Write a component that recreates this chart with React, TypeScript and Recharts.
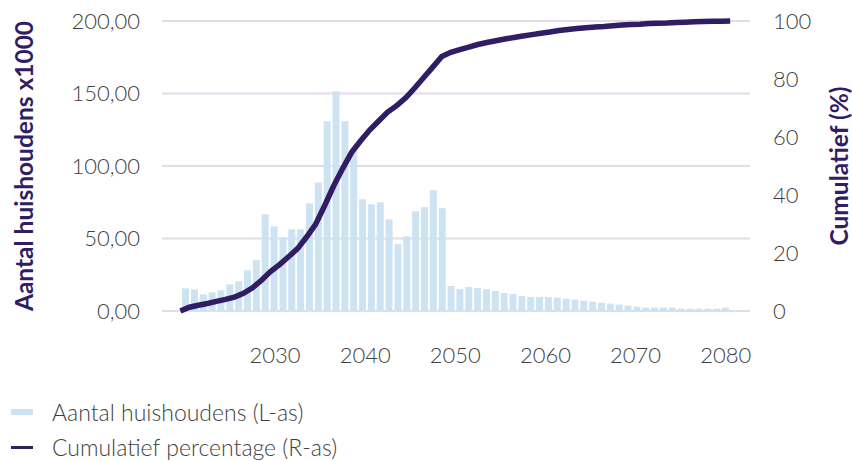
import React from "react"
import {
  ComposedChart,
  Bar,
  Line,
  XAxis,
  YAxis,
  CartesianGrid,
} from "recharts"

// jaren van de staafjes
const years = Array.from({ length: 62 }, (_, i) => 2020 + i)

// aantal huishoudens x1000 per jaar
const households = [
  15.6, 14.9, 11.5, 12.9, 14.3, 18.4, 20.5, 28.0, 35.0, 66.7,
  58.4, 50.8, 56.3, 56.3, 74.3, 88.7, 130.8, 151.5, 130.8, 111.5,
  77.1, 73.6, 75.0, 63.3, 46.1, 51.6, 68.8, 71.6, 83.3, 70.9,
  17.2, 15.1, 16.5, 15.8, 15.1, 13.8, 12.4, 11.7, 10.3, 9.6,
  9.7, 9.7, 9.2, 8.5, 7.8, 7.1, 6.4, 5.7, 5.1, 4.4,
  3.7, 3.0, 2.3, 2.3, 2.3, 2.3, 1.6, 1.6, 1.6, 1.6,
  1.6, 2.3,
]

// cumulatief percentage, eind van elk jaar (2019 t/m 2080)
const cumYears = Array.from({ length: 62 }, (_, i) => 2019 + i)
const cumulative = [
  0, 1.3, 2.0, 2.6, 3.3, 4.0, 4.8, 6.1, 8.0, 10.6,
  13.6, 16.0, 18.7, 21.5, 25.5, 29.9, 36.3, 43.1, 49.1, 54.7,
  58.7, 62.4, 65.5, 68.6, 70.8, 73.5, 76.9, 80.5, 84.1, 87.8,
  89.2, 90.1, 91.0, 91.9, 92.6, 93.2, 93.8, 94.3, 94.8, 95.3,
  95.8, 96.2, 96.7, 97.1, 97.4, 97.7, 97.9, 98.1, 98.4, 98.6,
  98.8, 98.9, 99.1, 99.2, 99.3, 99.5, 99.6, 99.7, 99.8, 99.9,
  99.9, 100,
]

const leftTicks = [0, 50, 100, 150, 200]
const rightTicks = [0, 20, 40, 60, 80, 100]
const yearTicks = [2030, 2040, 2050, 2060, 2070, 2080]

const barRows = years.map((year, i) => ({ year, value: households[i] }))
const lineRows = cumYears.map((y, i) => ({ x: y + 0.5, cum: cumulative[i] }))

const BAR = "#cde3f2"
const LINE = "#311d63"
const TEXT = "#3f3f3f"
const FONT = "Lato, 'Open Sans', sans-serif"

const tickStyle = { fill: TEXT, fontSize: 22, fontWeight: 300, fontFamily: FONT }

function SideLabel({ viewBox, text, dx }: any) {
  const x = viewBox.x + dx
  const y = viewBox.y + viewBox.height / 2
  return (
    <text
      x={x}
      y={y}
      transform={`rotate(-90, ${x}, ${y})`}
      textAnchor="middle"
      dominantBaseline="central"
      fill={LINE}
      fontSize={24.5}
      fontWeight={700}
      fontFamily={FONT}
    >
      {text}
    </text>
  )
}

export default function App() {
  return (
    <div style={{ position: "absolute", left: 0, top: 0, width: 852, height: 461, background: "#fff", overflow: "hidden" }}>
      <ComposedChart
        width={852}
        height={461}
        data={barRows}
        margin={{ top: 21, right: 0, bottom: 90, left: 0 }}
      >
        <CartesianGrid
          vertical={false}
          xAxisId="years"
          yAxisId="left"
          stroke="#e2dee9"
          strokeWidth={2}
        />
        <XAxis
          xAxisId="bars"
          dataKey="year"
          type="number"
          domain={[2017.344, 2083.79]}
          allowDataOverflow
          hide
        />
        <XAxis
          xAxisId="years"
          dataKey="x"
          type="number"
          domain={[2017.46, 2082.7]}
          allowDataOverflow
          ticks={yearTicks}
          axisLine={false}
          tickLine={false}
          tickSize={0}
          tickMargin={6}
          height={60}
          tick={tickStyle}
        />
        <YAxis
          yAxisId="left"
          orientation="left"
          width={162}
          domain={[0, 200]}
          ticks={leftTicks}
          axisLine={false}
          tickLine={false}
          tickSize={0}
          tickMargin={22}
          tick={tickStyle}
          tickFormatter={(v: number) => v.toFixed(2).replace(".", ",")}
          label={(p: any) => <SideLabel {...p} text="Aantal huishoudens x1000" dx={23} />}
        />
        <YAxis
          yAxisId="right"
          orientation="right"
          width={102}
          domain={[0, 100]}
          ticks={rightTicks}
          axisLine={false}
          tickLine={false}
          tickSize={0}
          tickMargin={23}
          tick={{ ...tickStyle, textAnchor: "start" }}
          label={(p: any) => <SideLabel {...p} text="Cumulatief (%)" dx={88} />}
        />
        <Bar
          xAxisId="bars"
          yAxisId="left"
          dataKey="value"
          fill={BAR}
          barSize={7}
          isAnimationActive={false}
        />
        <Line
          xAxisId="years"
          yAxisId="right"
          data={lineRows}
          dataKey="cum"
          stroke={LINE}
          strokeWidth={5.5}
          dot={false}
          activeDot={false}
          isAnimationActive={false}
        />
      </ComposedChart>
      <div
        style={{
          position: "absolute",
          left: 11,
          top: 393,
          fontFamily: FONT,
          fontWeight: 300,
          fontSize: 23,
          color: TEXT,
          lineHeight: "36px",
          whiteSpace: "nowrap",
        }}
      >
        <div style={{ display: "flex", alignItems: "center", height: 37 }}>
          <span style={{ display: "inline-block", width: 22, height: 6, background: BAR, marginRight: 19 }} />
          Aantal huishoudens (L-as)
        </div>
        <div style={{ display: "flex", alignItems: "center", height: 34 }}>
          <span style={{ display: "inline-block", width: 22, height: 3, background: LINE, marginRight: 19 }} />
          Cumulatief percentage (R-as)
        </div>
      </div>
    </div>
  )
}
